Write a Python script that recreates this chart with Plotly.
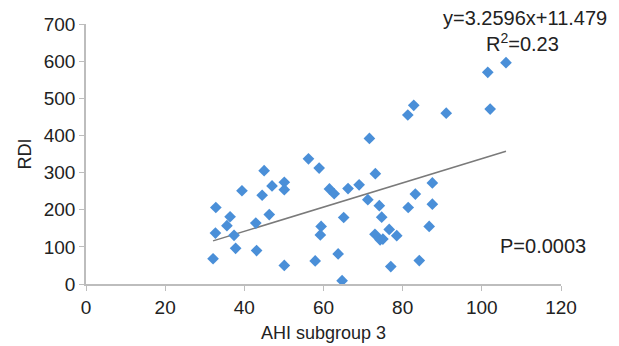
import plotly.graph_objects as go

ahi = [32.1, 32.7, 32.8, 35.6, 36.4, 37.4, 37.8, 39.4, 43.1, 42.9,
       44.5, 45.0, 46.3, 47.0, 50.1, 50.1, 50.1, 56.2, 57.9, 58.9,
       59.4, 59.2, 61.5, 62.7, 63.7, 64.7, 65.1, 66.2, 69.0, 71.2,
       71.6, 73.1, 73.0, 74.1, 74.7, 74.3, 75.0, 76.6, 77.0, 78.5,
       81.3, 82.8, 81.4, 83.2, 84.2, 86.7, 87.5, 87.5, 91.0, 101.5,
       102.1, 106.1]
rdi = [68, 137, 206, 157, 181, 131, 96, 251, 90, 164,
       239, 305, 187, 264, 274, 254, 50, 337, 62, 312,
       155, 132, 256, 243, 81, 9, 179, 257, 267, 227,
       392, 297, 134, 211, 180, 119, 121, 147, 47, 130,
       455, 481, 206, 242, 63, 155, 272, 215, 460, 570,
       471, 596]

slope = 3.2596
intercept = 11.479
x_ticks = [0, 20, 40, 60, 80, 100, 120]
y_ticks = [0, 100, 200, 300, 400, 500, 600, 700]

fit_x = [min(ahi), max(ahi)]
fit_y = [slope * v + intercept for v in fit_x]

fig = go.Figure()
fig.add_trace(go.Scatter(x=fit_x, y=fit_y, mode="lines",
                         line=dict(color="#7a7a7a", width=1.5),
                         hoverinfo="skip", showlegend=False))
fig.add_trace(go.Scatter(x=ahi, y=rdi, mode="markers",
                         marker=dict(symbol="diamond", size=9, color="#4a8fd8",
                                     line=dict(width=0)),
                         showlegend=False))

fam = "Liberation Sans, Arial, sans-serif"
tick_font = dict(family=fam, size=19, color="#222222")
title_font = dict(family=fam, size=18, color="#222222")
ann_font = dict(family=fam, size=20, color="#222222")

pl, pr, pt, pb = 86, 561, 24, 284

fig.update_layout(
    width=619, height=346,
    margin=dict(l=pl, r=619 - pr, t=pt, b=346 - pb, autoexpand=False),
    paper_bgcolor="white", plot_bgcolor="white",
    font=tick_font,
    xaxis=dict(range=[0, 120], tickvals=x_ticks, showgrid=False, zeroline=False,
               showline=True, linecolor="#bdbdbd", linewidth=1.5,
               ticks="outside", ticklen=5, tickcolor="#bdbdbd", automargin=False,
               tickfont=tick_font,
               title=dict(text="AHI subgroup 3", standoff=10, font=title_font)),
    yaxis=dict(range=[0, 700], tickvals=y_ticks, showgrid=False, zeroline=False,
               showline=True, linecolor="#bdbdbd", linewidth=1.5,
               ticks="outside", ticklen=5, tickcolor="#bdbdbd", automargin=False,
               tickfont=tick_font,
               title=dict(text="RDI", standoff=7, font=title_font)),
)

# annotation anchors given in pixel positions, converted to paper coordinates
notes = [
    (f"y={slope}x+{intercept}", 525, 18),
    ("R<sup>2</sup>=0.23", 522, 43),
    ("P=0.0003", 543, 246),
]
for text, px, py in notes:
    fig.add_annotation(text=text, showarrow=False, font=ann_font,
                       xref="paper", yref="paper",
                       x=(px - pl) / (pr - pl), y=(pb - py) / (pb - pt),
                       xanchor="center", yanchor="middle")

fig.write_html("out.html", config={"displayModeBar": False},
               post_script="document.body.style.margin='0';document.body.style.overflow='hidden';")
